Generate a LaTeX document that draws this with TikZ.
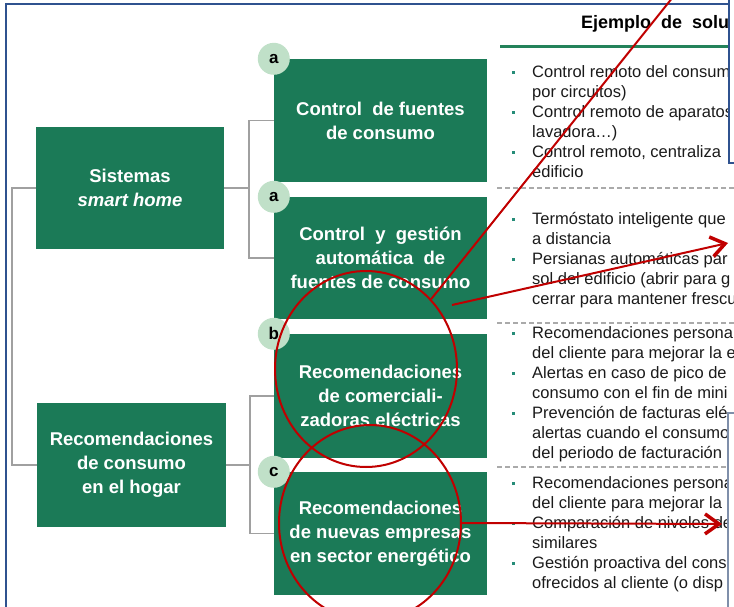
\documentclass[tikz,border=0pt]{standalone}
\usepackage{fontspec}
\setmainfont{Liberation Sans}
\usetikzlibrary{arrows.meta}
\usetikzlibrary{shapes.geometric}

\newcommand{\blt}{\makebox[22pt][l]{\hspace{2pt}\textcolor[RGB]{38,140,120}{\rule[3.6pt]{3.2pt}{3.2pt}}}}
\newcommand{\hng}{\hspace*{22pt}}

\begin{document}
\begin{tikzpicture}[x=1pt,y=1pt,yscale=-1,xscale=1,
  box/.style={fill={rgb, 255:red, 27; green, 122; blue, 87}, text=white, align=center, inner sep=0pt,
    font=\fontsize{18.5}{24}\selectfont\bfseries, minimum width=213pt, minimum height=123pt},
  tag/.style={circle, fill={rgb, 255:red, 192; green, 224; blue, 200}, text=black, inner sep=0pt,
    minimum size=32pt, font=\fontsize{17}{17}\selectfont\bfseries},
  conn/.style={draw={rgb, 255:red, 160; green, 160; blue, 160}, line width=1.5pt},
  sol/.style={align=left, inner sep=0pt, text={rgb, 255:red, 26; green, 26; blue, 26},
    font=\fontsize{16.5}{19.9}\selectfont},
  sep/.style={draw={rgb, 255:red, 170; green, 170; blue, 170}, line width=1.2pt, dash pattern=on 5pt off 3pt},
  ring/.style={ellipse, draw={rgb, 255:red, 192; green, 0; blue, 0}, line width=2pt, inner sep=0pt,
    minimum width=182pt, minimum height=196pt},
  redline/.style={draw={rgb, 255:red, 192; green, 0; blue, 0}, line width=2pt},
  redarrow/.style={redline, -{Straight Barb[length=14pt,width=20pt,line width=3.5pt]}}
]
\useasboundingbox (0,0) rectangle (734,607);

%Straight Lines (frame)
\draw [draw={rgb, 255:red, 47; green, 82; blue, 143}, line width=1.5pt] (6,620) -- (6,4) -- (750,4) ;

% Text Node (header)
\node [anchor=base west, inner sep=0pt, font=\fontsize{18}{18}\selectfont\bfseries] (hd) at (581,29) {Ejemplo~ de~ solu};
%Straight Lines
\draw [draw={rgb, 255:red, 35; green, 130; blue, 90}, line width=3pt] (500,47) -- (750,47) ;

% Text Node (solutions)
\node [sol, anchor=north west] (s1) at (510,63.6) {\strut\blt Control remoto del consum\\
  \hng por circuitos)\\
  \blt Control remoto de aparatos\\
  \hng lavadora…)\\
  \blt Control remoto, centraliza\\
  \hng edificio};
\node [sol, anchor=north west] (s2) at (510,210.6) {\strut\blt Termóstato inteligente que\\
  \hng a distancia\\
  \blt Persianas automáticas par\\
  \hng sol del edificio (abrir para g\\
  \hng cerrar para mantener frescu};
\node [sol, anchor=north west] (s3) at (510,324.6) {\strut\blt Recomendaciones persona\\
  \hng del cliente para mejorar la e\\
  \blt Alertas en caso de pico de\\
  \hng consumo con el fin de mini\\
  \blt Prevención de facturas elé\\
  \hng alertas cuando el consumo\\
  \hng del periodo de facturación};
\node [sol, anchor=north west] (s4) at (510,474.6) {\strut\blt Recomendaciones persona\\
  \hng del cliente para mejorar la\\
  \blt Comparación de niveles de\\
  \hng similares\\
  \blt Gestión proactiva del cons\\
  \hng ofrecidos al cliente (o disp};

%Straight Lines (separators)
\draw [sep] (497,188) -- (750,188) ;
\draw [sep] (497,323) -- (750,323) ;
\draw [sep] (497,467) -- (750,467) ;

%Shape: Rectangle (right panels)
\draw [fill=white, draw={rgb, 255:red, 47; green, 82; blue, 143}, line width=1.5pt] (729,-5) rectangle (750,163) ;
\draw [fill=white, draw={rgb, 255:red, 127; green, 143; blue, 170}, line width=1.2pt] (728,413) rectangle (750,620) ;

%Shape: Rectangle (green boxes)
\node [box, minimum width=188pt, minimum height=122pt] (sis) at (130,188) {Sistemas\\ \textit{smart home}};
\node [box, minimum width=189pt, minimum height=124pt] (hog) at (131.5,465) {Recomendaciones\\ de consumo\\ en el hogar};
\node [box] (b1) at (380.5,120.5) {Control~ de fuentes\\ de consumo};
\node [box, minimum height=122pt] (b2) at (380.5,258) {Control~ y~ gestión\\ automática~ de\\ fuentes de consumo};
\node [box, minimum height=124pt] (b3) at (380.5,396) {Recomendaciones\\ de comerciali-\\ zadoras eléctricas};
\node [box] (b4) at (380.5,533.5) {Recomendaciones\\ de nuevas empresas\\ en sector energético};

%Straight Lines (tree)
\coordinate (j0) at (12,188);
\coordinate (j1) at (249,188);
\coordinate (j2) at (250,465);
\draw [conn] (sis.west) -- (j0) |- (hog.west) ;
\draw [conn] (sis.east) -- (j1) ;
\draw [conn] (b1.west) -| (j1) |- (b2.west) ;
\draw [conn] (hog.east) -- (j2) ;
\draw [conn] (b3.west) -| (j2) |- (b4.west) ;

%Shape: Circle
\node [tag] (ta) at (b1.north west) {a};
\node [tag] (tb) at (b2.north west) {a};
\node [tag] (tc) at (b3.north west) {b};
\node [tag] (td) at (b4.north west) {c};

%Shape: Ellipse
\node [ring] (r1) at (366,369) {};
\node [ring] (r2) at (370,523) {};

%Straight Lines (red marks)
\coordinate (t1) at (673,-3);
\coordinate (p1) at (452,305);
\coordinate (q1) at (728,243);
\coordinate (q2) at (722,524);
\draw [redline] (t1) -- (r1.47) ;
\draw [redarrow] (p1) -- (q1) ;
\draw [redarrow] (r2.east) -- (q2) ;

\end{tikzpicture}
\end{document}
